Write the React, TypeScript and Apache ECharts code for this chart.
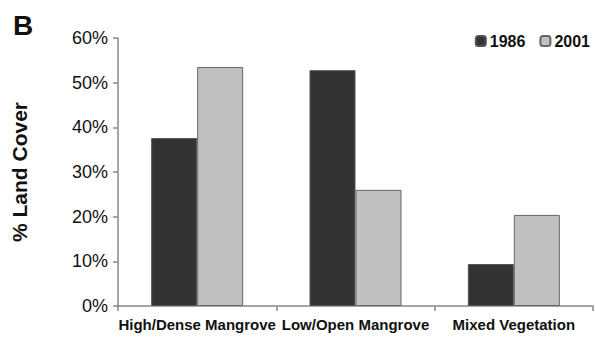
import React, { useEffect, useRef } from "react";
import * as echarts from "echarts";

const categories = ["High/Dense Mangrove", "Low/Open Mangrove", "Mixed Vegetation"];
const values1986 = [37.6, 52.8, 9.4];
const values2001 = [53.5, 26.0, 20.4];
const yTicks = [0, 10, 20, 30, 40, 50, 60];

export default function App() {
  const ref = useRef<HTMLDivElement>(null);
  useEffect(() => {
    if (!ref.current) return;
    const chart = echarts.init(ref.current, null, { renderer: "svg" });
    const font = "Liberation Sans, Arial, sans-serif";
    chart.setOption({
      animation: false,
      backgroundColor: "#ffffff",
      textStyle: { fontFamily: font },
      grid: { left: 118, right: 2, top: 38, bottom: 35, containLabel: false },
      title: {
        text: "B",
        left: 8,
        top: 6,
        textStyle: { fontFamily: font, fontSize: 28, fontWeight: "bold", color: "#111" },
      },
      legend: {
        right: 0,
        top: 28,
        itemWidth: 10,
        itemHeight: 10,
        itemGap: 14,
        textStyle: { fontFamily: font, fontSize: 16, fontWeight: "bold", color: "#111", padding: [0, 0, 0, -1] },
        data: ["1986", "2001"],
      },
      xAxis: {
        type: "category",
        data: categories,
        axisLine: { lineStyle: { color: "#888", width: 1.5 } },
        axisTick: { show: true, length: 5, lineStyle: { color: "#888", width: 1.5 } },
        axisLabel: { fontFamily: font, fontSize: 15, fontWeight: "bold", color: "#111", margin: 11, interval: 0 },
      },
      yAxis: {
        type: "value",
        min: 0,
        max: 60,
        interval: 10,
        name: "% Land Cover",
        nameLocation: "middle",
        nameGap: 88,
        nameRotate: 90,
        nameTextStyle: { fontFamily: font, fontSize: 21, fontWeight: "bold", color: "#111", padding: [0, 0, 0, 0] },
        axisLine: { show: true, lineStyle: { color: "#888", width: 1.5 } },
        axisTick: { show: true, length: 5, lineStyle: { color: "#888", width: 1.5 } },
        splitLine: { show: false },
        axisLabel: {
          fontFamily: font,
          fontSize: 18,
          color: "#111",
          margin: 10,
          formatter: (v: number) => (yTicks.includes(v) ? v + "%" : ""),
        },
      },
      series: [
        {
          name: "1986",
          type: "bar",
          data: values1986,
          barWidth: 46,
          barGap: "0%",
          itemStyle: { color: "#333333", borderColor: "#555", borderWidth: 1 },
        },
        {
          name: "2001",
          type: "bar",
          data: values2001,
          barWidth: 46,
          barGap: "0%",
          itemStyle: { color: "#c0c0c0", borderColor: "#666", borderWidth: 1 },
        },
      ],
    });
    return () => chart.dispose();
  }, []);
  return <div ref={ref} style={{ width: 595, height: 341, position: "absolute", left: 0, top: 0 }} />;
}
